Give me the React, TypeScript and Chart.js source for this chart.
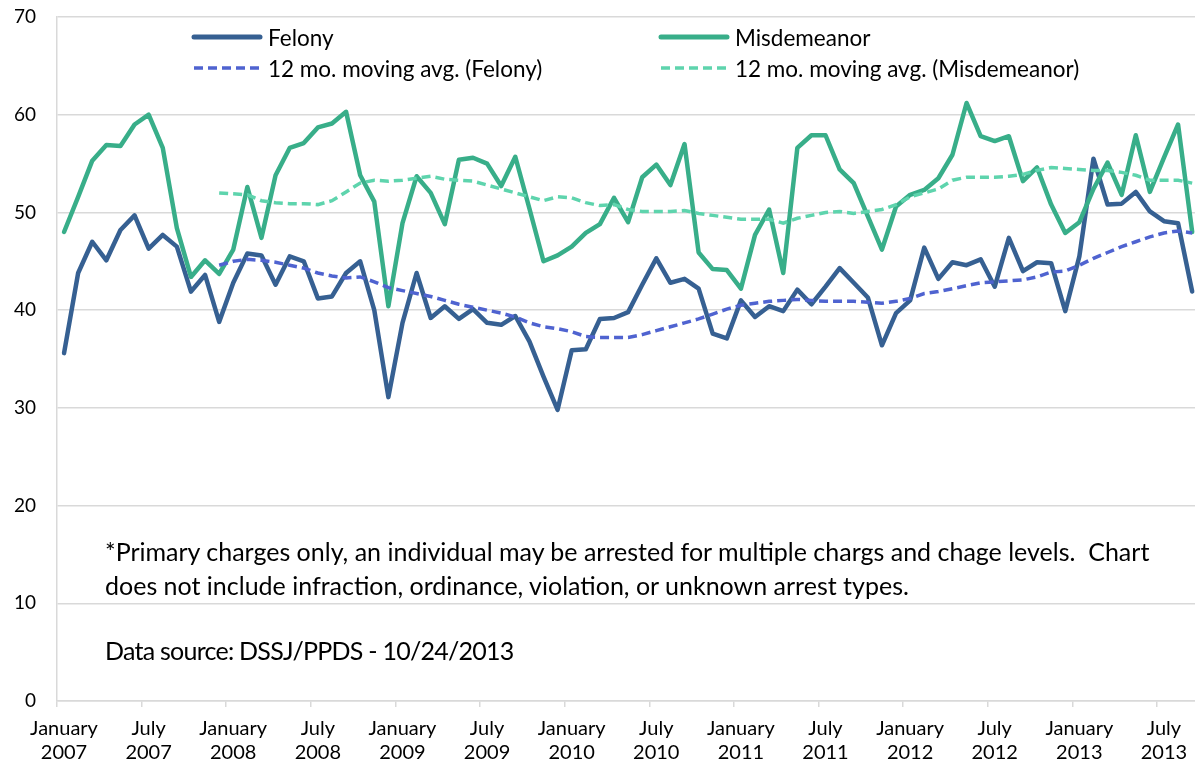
import React, { useEffect, useRef } from "react";
import { Chart, registerables } from "chart.js";

Chart.register(...registerables);

// Monthly arrests, January 2007 .. September 2013 (81 months)
const felony = [
  35.6, 43.8, 47.0, 45.1, 48.2, 49.7, 46.3, 47.7, 46.5, 41.9,
  43.6, 38.8, 42.8, 45.8, 45.6, 42.6, 45.5, 45.0, 41.2, 41.4,
  43.8, 45.0, 40.0, 31.1, 38.7, 43.8, 39.2, 40.4, 39.1, 40.1,
  38.7, 38.5, 39.4, 36.8, 33.2, 29.8, 35.9, 36.0, 39.1, 39.2,
  39.8, 42.6, 45.3, 42.8, 43.2, 42.2, 37.6, 37.1, 41.0, 39.3,
  40.4, 39.9, 42.1, 40.6, 42.4, 44.3, 42.8, 41.3, 36.4, 39.7,
  41.0, 46.4, 43.2, 44.9, 44.6, 45.2, 42.4, 47.4, 44.0, 44.9,
  44.8, 39.9, 45.5, 55.5, 50.8, 50.9, 52.1, 50.1, 49.1, 48.9,
  41.9,
];

const misdemeanor = [
  48.0, 51.6, 55.3, 56.9, 56.8, 59.0, 60.0, 56.6, 48.4, 43.4,
  45.1, 43.7, 46.2, 52.6, 47.4, 53.8, 56.6, 57.1, 58.7, 59.1,
  60.3, 53.8, 51.1, 40.4, 48.9, 53.7, 52.0, 48.8, 55.4, 55.6,
  55.0, 52.7, 55.7, 50.4, 45.0, 45.6, 46.5, 47.9, 48.8, 51.5,
  49.0, 53.6, 54.9, 52.8, 57.0, 45.9, 44.2, 44.1, 42.2, 47.7,
  50.3, 43.8, 56.6, 57.9, 57.9, 54.4, 53.0, 49.6, 46.2, 50.6,
  51.8, 52.3, 53.5, 55.9, 61.2, 57.8, 57.3, 57.8, 53.2, 54.6,
  50.8, 47.9, 49.0, 52.4, 55.1, 51.8, 57.9, 52.1, 55.6, 59.0,
  48.0,
];

// 12 month moving averages (first 11 months have no value)
const felonyAvg = [
  null, null, null, null, null, null, null, null, null, null, null,
  44.6, 45.0, 45.2, 45.1, 44.9, 44.6, 44.3, 43.8, 43.5,
  43.3, 43.4, 42.9, 42.3, 42.0, 41.7, 41.4, 41.0, 40.6, 40.3,
  40.0, 39.7, 39.3, 38.7, 38.3, 38.1, 37.8, 37.3, 37.2, 37.2,
  37.2, 37.5, 37.9, 38.3, 38.7, 39.1, 39.6, 40.1, 40.5, 40.7,
  40.9, 41.0, 41.1, 41.0, 40.9, 40.9, 40.9, 40.8, 40.7, 40.9,
  41.2, 41.7, 41.9, 42.2, 42.5, 42.8, 42.9, 43.0, 43.1, 43.4,
  43.9, 44.0, 44.6, 45.3, 45.9, 46.5, 47.0, 47.5, 47.9, 48.1,
  47.9,
];

const misdemeanorAvg = [
  null, null, null, null, null, null, null, null, null, null, null,
  52.0, 51.9, 51.8, 51.2, 51.0, 50.9, 50.9, 50.8, 51.2,
  52.1, 53.0, 53.3, 53.2, 53.3, 53.5, 53.7, 53.4, 53.3, 53.2,
  52.8, 52.4, 52.0, 51.6, 51.2, 51.6, 51.5, 51.0, 50.7, 50.8,
  50.3, 50.1, 50.1, 50.1, 50.2, 49.9, 49.7, 49.5, 49.3, 49.3,
  49.3, 48.9, 49.4, 49.7, 50.0, 50.1, 49.9, 50.1, 50.3, 50.8,
  51.6, 52.0, 52.4, 53.3, 53.6, 53.6, 53.6, 53.7, 53.9, 54.3,
  54.6, 54.5, 54.4, 54.3, 54.3, 54.1, 53.8, 53.3, 53.3, 53.3,
  53.0,
];

const xTickLabels = [
  ["January", "2007"], ["July", "2007"],
  ["January", "2008"], ["July", "2008"],
  ["January", "2009"], ["July", "2009"],
  ["January", "2010"], ["July", "2010"],
  ["January", "2011"], ["July", "2011"],
  ["January", "2012"], ["July", "2012"],
  ["January", "2013"], ["July", "2013"],
];

const seriesNames = [
  "Felony",
  "Misdemeanor",
  "12 mo. moving avg. (Felony)",
  "12 mo. moving avg. (Misdemeanor)",
];

const noteLines = [
  "*Primary charges only, an individual may be arrested for multiple chargs and chage levels.  Chart",
  "does not include infraction, ordinance, violation, or unknown arrest types.",
];
const sourceNote = "Data source: DSSJ/PPDS - 10/24/2013";

const COLORS = {
  felony: "#366092",
  misd: "#38ae89",
  felonyAvg: "#4f63d0",
  misdAvg: "#5ed4ad",
};

const FONT = "Lato, 'Open Sans', sans-serif";

const toXY = (arr: (number | null)[]) => arr.map((v, i) => ({ x: i, y: v }));

function LegendSample({ color, dashed }: { color: string; dashed: boolean }) {
  return (
    <svg width={72} height={10} style={{ display: "block" }}>
      <line
        x1={3}
        y1={5}
        x2={69}
        y2={5}
        stroke={color}
        strokeWidth={dashed ? 3.5 : 5}
        strokeLinecap={dashed ? "butt" : "round"}
        strokeDasharray={dashed ? "9 5" : undefined}
      />
    </svg>
  );
}

export default function App() {
  const canvasRef = useRef<HTMLCanvasElement | null>(null);

  useEffect(() => {
    document.body.style.margin = "0";
    const canvas = canvasRef.current;
    if (!canvas) return;
    const chart = new Chart(canvas, {
      type: "line",
      data: {
        datasets: [
          {
            label: seriesNames[2],
            data: toXY(felonyAvg),
            borderColor: COLORS.felonyAvg,
            borderWidth: 3.5,
            borderDash: [9, 5],
            pointRadius: 0,
            fill: false,
            order: 0,
          },
          {
            label: seriesNames[3],
            data: toXY(misdemeanorAvg),
            borderColor: COLORS.misdAvg,
            borderWidth: 3.5,
            borderDash: [9, 5],
            pointRadius: 0,
            fill: false,
            order: 0,
          },
          {
            label: seriesNames[1],
            data: toXY(misdemeanor),
            borderColor: COLORS.misd,
            borderWidth: 4.5,
            borderJoinStyle: "round",
            borderCapStyle: "round",
            pointRadius: 0,
            fill: false,
            order: 1,
          },
          {
            label: seriesNames[0],
            data: toXY(felony),
            borderColor: COLORS.felony,
            borderWidth: 4.5,
            borderJoinStyle: "round",
            borderCapStyle: "round",
            pointRadius: 0,
            fill: false,
            order: 2,
          },
        ],
      },
      options: {
        animation: false,
        responsive: false,
        maintainAspectRatio: false,
        layout: { padding: { top: 17, right: 0, left: 0, bottom: 0 } },
        plugins: {
          legend: { display: false },
          tooltip: { enabled: false },
        },
        scales: {
          x: {
            type: "linear",
            min: -0.5,
            max: 80.2,
            afterBuildTicks: (scale: any) => {
              scale.ticks = xTickLabels.map((_, k) => ({ value: k * 6 - 0.5 }));
            },
            afterFit: (scale: any) => {
              scale.height = 66;
            },
            ticks: {
              autoSkip: false,
              maxRotation: 0,
              minRotation: 0,
              labelOffset: 7,
              padding: 10,
              color: "#000",
              font: { family: FONT, size: 20 },
              callback: (_v: any, i: number) => xTickLabels[i],
            },
            grid: {
              drawOnChartArea: false,
              color: "#d9d9d9",
              tickLength: 6,
              lineWidth: 1.5,
            },
            border: { color: "#d9d9d9", width: 1.5 },
          },
          y: {
            min: 0,
            max: 70,
            afterFit: (scale: any) => {
              scale.width = 57;
              scale.paddingTop = 0;
              scale.paddingBottom = 0;
            },
            ticks: {
              stepSize: 10,
              padding: 21,
              color: "#000",
              font: { family: FONT, size: 19 },
            },
            grid: { color: "#d9d9d9", lineWidth: 1.5, drawTicks: false },
            border: { color: "#d9d9d9", width: 1.5 },
          },
        },
      },
    } as any);
    return () => chart.destroy();
  }, []);

  const textStyle: React.CSSProperties = {
    position: "absolute",
    fontFamily: FONT,
    fontSize: 25,
    color: "#000",
    whiteSpace: "pre",
    lineHeight: "28px",
  };

  const legendItems = [
    { name: seriesNames[0], color: COLORS.felony, dashed: false, left: 191, top: 37 },
    { name: seriesNames[1], color: COLORS.misd, dashed: false, left: 658, top: 37 },
    { name: seriesNames[2], color: COLORS.felonyAvg, dashed: true, left: 191, top: 68 },
    { name: seriesNames[3], color: COLORS.misdAvg, dashed: true, left: 658, top: 68 },
  ];

  return (
    <div style={{ position: "relative", width: 1195, height: 767, background: "#fff", overflow: "hidden" }}>
      <canvas ref={canvasRef} width={1195} height={767} style={{ display: "block" }} />
      {legendItems.map((it) => (
        <div
          key={it.name}
          style={{
            position: "absolute",
            left: it.left,
            top: it.top - 14,
            height: 28,
            display: "flex",
            alignItems: "center",
          }}
        >
          <LegendSample color={it.color} dashed={it.dashed} />
          <span style={{ fontFamily: FONT, fontSize: 22.5, color: "#000", marginLeft: 5, whiteSpace: "pre" }}>
            {it.name}
          </span>
        </div>
      ))}
      <div style={{ ...textStyle, left: 105, top: 551 - 14 }}>{noteLines[0]}</div>
      <div style={{ ...textStyle, left: 105, top: 585 - 14 }}>{noteLines[1]}</div>
      <div style={{ ...textStyle, left: 105, top: 650 - 14, letterSpacing: -0.75 }}>{sourceNote}</div>
    </div>
  );
}
